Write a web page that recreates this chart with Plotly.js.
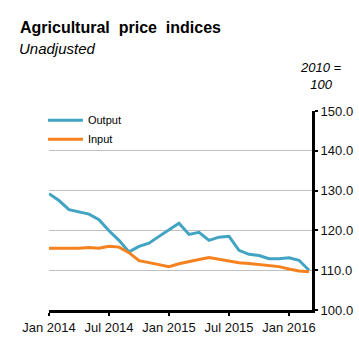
<!DOCTYPE html>
<html>
<head>
<meta charset="utf-8">
<script src="https://cdn.plot.ly/plotly-3.0.1.min.js"></script>
<style>html,body{margin:0;padding:0;background:#fff;}#chart{width:359px;height:357px;}</style>
</head>
<body>
<div id="chart"></div>
<script>
const months = ['Jan 2014','Feb 2014','Mar 2014','Apr 2014','May 2014','Jun 2014','Jul 2014','Aug 2014','Sep 2014','Oct 2014','Nov 2014','Dec 2014',
  'Jan 2015','Feb 2015','Mar 2015','Apr 2015','May 2015','Jun 2015','Jul 2015','Aug 2015','Sep 2015','Oct 2015','Nov 2015','Dec 2015',
  'Jan 2016','Feb 2016','Mar 2016'];
const outputIdx = [129.2,127.5,125.2,124.6,124.1,122.7,119.9,117.5,114.6,116.0,116.8,118.5,120.1,121.8,119.0,119.5,117.5,118.3,118.5,115.0,114.0,113.7,112.9,112.9,113.1,112.5,110.0];
const inputIdx = [115.5,115.5,115.5,115.5,115.7,115.5,116.0,115.8,114.4,112.4,111.9,111.4,110.9,111.6,112.2,112.7,113.2,112.8,112.4,111.9,111.7,111.4,111.2,110.9,110.3,109.8,109.6];
const xTickVals = ['Jan 2014','Jul 2014','Jan 2015','Jul 2015','Jan 2016'];
const yTickVals = [100,110,120,130,140,150];

const FONT = 'Liberation Sans, Arial, sans-serif';
const traces = [
  {x: months, y: outputIdx, name: 'Output', type: 'scatter', mode: 'lines',
   line: {color: '#40a4c2', width: 3}},
  {x: months, y: inputIdx, name: 'Input', type: 'scatter', mode: 'lines',
   line: {color: '#f5821f', width: 3}}
];
const layout = {
  width: 359, height: 357,
  margin: {l: 49, r: 47, t: 111, b: 47},
  paper_bgcolor: '#fff', plot_bgcolor: '#fff',
  font: {family: FONT, color: '#000', size: 12},
  showlegend: true,
  title: {text: '<b>Agricultural\u00a0\u00a0price\u00a0\u00a0indices</b>', font: {family: FONT, size: 16, color: '#000'},
    xref: 'container', yref: 'container', x: 20/359, xanchor: 'left', y: 1 - 27/357, yanchor: 'middle'},
  legend: {x: -0.023, y: 1.027, xanchor: 'left', yanchor: 'top', bgcolor: 'rgba(0,0,0,0)',
    itemwidth: 35, font: {family: FONT, size: 11, color: '#000'}},
  xaxis: {type: 'category', range: [0, 26.3], showgrid: false, zeroline: false,
    showline: true, linecolor: '#000', linewidth: 3,
    ticks: 'outside', ticklen: 3, tickwidth: 2, tickcolor: '#000',
    tickmode: 'array', tickvals: xTickVals, ticktext: xTickVals,
    tickfont: {family: FONT, size: 13, color: '#111'}},
  yaxis: {side: 'right', range: [100, 150], tickmode: 'array', tickvals: yTickVals,
    tickformat: '.1f', showgrid: true, gridcolor: '#bfbfbf', gridwidth: 1, zeroline: false,
    showline: true, linecolor: '#000', linewidth: 3,
    ticks: 'outside', ticklen: 3, tickwidth: 2, tickcolor: '#000',
    tickfont: {family: FONT, size: 13, color: '#111'}},
  annotations: [
    {text: '<i>Unadjusted</i>', xref: 'paper', yref: 'paper', x: (17-49)/263, y: (310-48)/199,
     xanchor: 'left', yanchor: 'middle', showarrow: false, font: {family: FONT, size: 15, color: '#000'}},
    {text: '<i>2010 =<br>100</i>', xref: 'paper', yref: 'paper', x: (321-49)/263, y: (310-76)/199,
     xanchor: 'center', yanchor: 'middle', align: 'center', showarrow: false,
     font: {family: FONT, size: 13, color: '#000'}}
  ]
};
Plotly.newPlot('chart', traces, layout, {displayModeBar: false, staticPlot: true});
</script>
</body>
</html>
